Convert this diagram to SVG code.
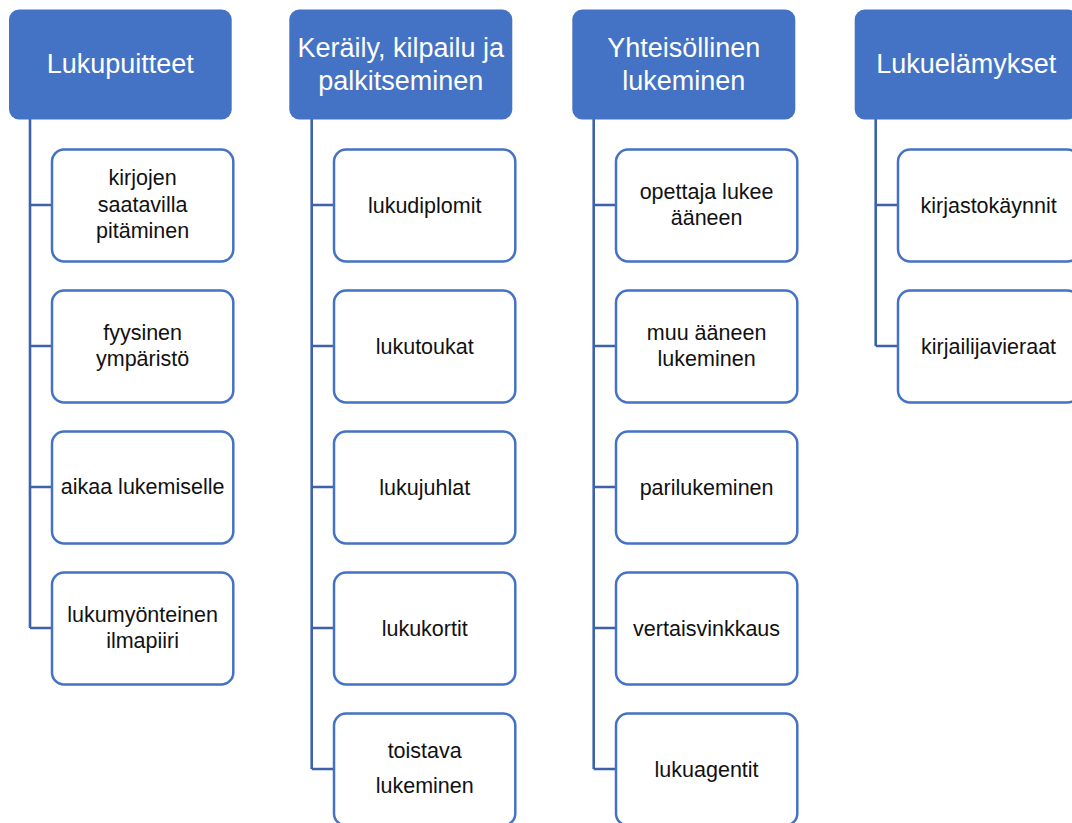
<svg xmlns="http://www.w3.org/2000/svg" width="1072" height="823" viewBox="0 0 1072 823">
<style>
.hdr rect{fill:#4472c4;stroke:none}
.hdr text{fill:#ffffff;font-family:"Liberation Sans",Arial,sans-serif;font-size:27px;text-anchor:middle}
.item rect{fill:#ffffff;stroke:#4472c4;stroke-width:2.5}
.item text{fill:#111111;font-family:"Liberation Sans",Arial,sans-serif;font-size:21.5px;text-anchor:middle}
.conn path{fill:none;stroke:#3d62a9;stroke-width:2.6}
</style>
<rect width="1072" height="823" fill="#ffffff"/>
<g class="conn">
<path d="M30,119 V628 M30,205 H52 M30,346 H52 M30,487 H52 M30,628 H52"/>
<path d="M311.7,119 V769 M311.7,205 H334 M311.7,346 H334 M311.7,487 H334 M311.7,628 H334 M311.7,769 H334"/>
<path d="M593.7,119 V769 M593.7,205 H616 M593.7,346 H616 M593.7,487 H616 M593.7,628 H616 M593.7,769 H616"/>
<path d="M875.7,119 V346 M875.7,205 H898 M875.7,346 H898"/>
</g>
<g id="h1" class="hdr"><rect x="9" y="9.5" width="222.7" height="110" rx="10"/><text x="120.3" y="73">Lukupuitteet</text></g>
<g id="h2" class="hdr"><rect x="289.3" y="9.5" width="223" height="110" rx="10"/><text x="400.8" y="57">Keräily, kilpailu ja</text><text x="400.8" y="89.5">palkitseminen</text></g>
<g id="h3" class="hdr"><rect x="572.3" y="9.5" width="223" height="110" rx="10"/><text x="683.8" y="57">Yhteisöllinen</text><text x="683.8" y="89.5">lukeminen</text></g>
<g id="h4" class="hdr"><rect x="854.7" y="9.5" width="223" height="110" rx="10"/><text x="966.2" y="73">Lukuelämykset</text></g>

<g id="c1a" class="item"><rect x="52" y="149.5" width="181.3" height="112" rx="12"/><text x="142.6" y="185">kirjojen</text><text x="142.6" y="212">saatavilla</text><text x="142.6" y="238">pitäminen</text></g>
<g id="c1b" class="item"><rect x="52" y="290.5" width="181.3" height="112" rx="12"/><text x="142.6" y="340">fyysinen</text><text x="142.6" y="366">ympäristö</text></g>
<g id="c1c" class="item"><rect x="52" y="431.5" width="181.3" height="112" rx="12"/><text x="142.6" y="494">aikaa lukemiselle</text></g>
<g id="c1d" class="item"><rect x="52" y="572.5" width="181.3" height="112" rx="12"/><text x="142.6" y="622">lukumyönteinen</text><text x="142.6" y="648">ilmapiiri</text></g>

<g id="c2a" class="item"><rect x="334" y="149.5" width="181.3" height="112" rx="12"/><text x="424.7" y="212.5">lukudiplomit</text></g>
<g id="c2b" class="item"><rect x="334" y="290.5" width="181.3" height="112" rx="12"/><text x="424.7" y="353.5">lukutoukat</text></g>
<g id="c2c" class="item"><rect x="334" y="431.5" width="181.3" height="112" rx="12"/><text x="424.7" y="494.5">lukujuhlat</text></g>
<g id="c2d" class="item"><rect x="334" y="572.5" width="181.3" height="112" rx="12"/><text x="424.7" y="635.5">lukukortit</text></g>
<g id="c2e" class="item"><rect x="334" y="713.5" width="181.3" height="112" rx="12"/><text x="424.7" y="758">toistava</text><text x="424.7" y="793">lukeminen</text></g>

<g id="c3a" class="item"><rect x="616" y="149.5" width="181.3" height="112" rx="12"/><text x="706.6" y="199">opettaja lukee</text><text x="706.6" y="225">ääneen</text></g>
<g id="c3b" class="item"><rect x="616" y="290.5" width="181.3" height="112" rx="12"/><text x="706.6" y="340">muu ääneen</text><text x="706.6" y="366">lukeminen</text></g>
<g id="c3c" class="item"><rect x="616" y="431.5" width="181.3" height="112" rx="12"/><text x="706.6" y="494.5">parilukeminen</text></g>
<g id="c3d" class="item"><rect x="616" y="572.5" width="181.3" height="112" rx="12"/><text x="706.6" y="635.5">vertaisvinkkaus</text></g>
<g id="c3e" class="item"><rect x="616" y="713.5" width="181.3" height="112" rx="12"/><text x="706.6" y="776.5">lukuagentit</text></g>

<g id="c4a" class="item"><rect x="898" y="149.5" width="181.3" height="112" rx="12"/><text x="988.6" y="212.5">kirjastokäynnit</text></g>
<g id="c4b" class="item"><rect x="898" y="290.5" width="181.3" height="112" rx="12"/><text x="988.6" y="353.5">kirjailijavieraat</text></g>
</svg>
